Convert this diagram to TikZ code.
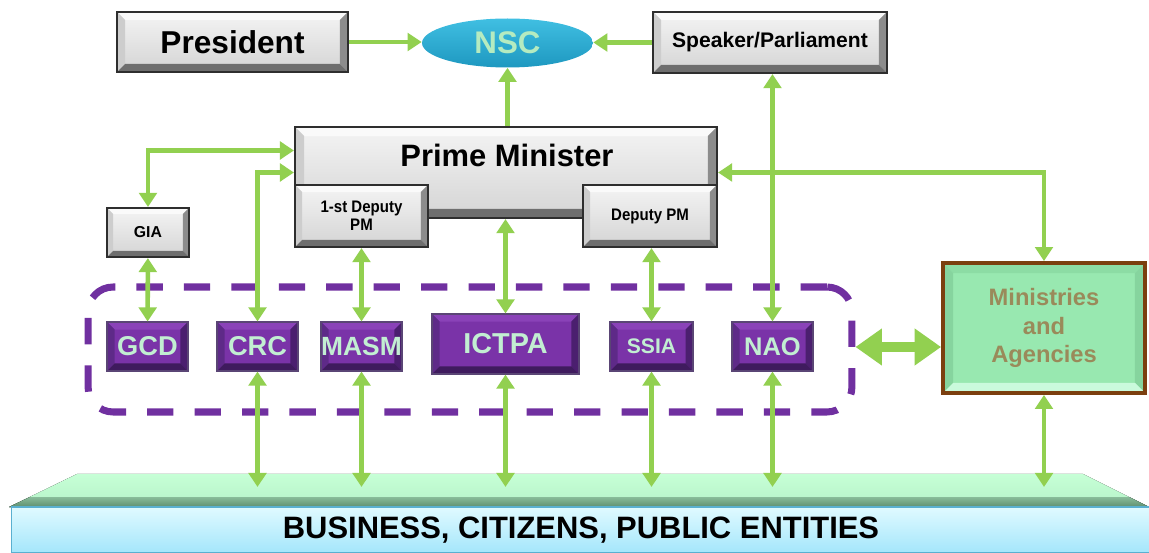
\documentclass[tikz,border=0pt]{standalone}
\usepackage{fontspec}
\setmainfont{Liberation Sans}
\newfontfamily\narrowfont[FakeStretch=0.9]{Liberation Sans}
\usetikzlibrary{arrows.meta,shapes.geometric}

\definecolor{lgreen}{HTML}{92D050}
\definecolor{greyline}{HTML}{2E2E2E}
\definecolor{greyhi}{HTML}{F4F4F4}
\definecolor{greylo}{HTML}{D4D4D4}
\definecolor{greytop}{HTML}{FAFAFA}
\definecolor{greyleft}{HTML}{CDCDCD}
\definecolor{greyright}{HTML}{8C8C8C}
\definecolor{greybot}{HTML}{6E6E6E}
\definecolor{purface}{HTML}{7A33A8}
\definecolor{purtop}{HTML}{8A42B8}
\definecolor{purleft}{HTML}{5E2A88}
\definecolor{purright}{HTML}{4B1F6F}
\definecolor{purbot}{HTML}{3F1B5E}
\definecolor{purline}{HTML}{5A4575}
\definecolor{purtext}{HTML}{C2EED2}
\definecolor{dashpurple}{HTML}{7030A0}
\definecolor{minface}{HTML}{98E8B0}
\definecolor{mintop}{HTML}{8CDCA4}
\definecolor{minside}{HTML}{86D49E}
\definecolor{minbot}{HTML}{CAFADC}
\definecolor{minline}{HTML}{7B3F0F}
\definecolor{mintext}{HTML}{9A8A5A}
\definecolor{nsctop}{HTML}{40BFE2}
\definecolor{nscbot}{HTML}{1E98C0}
\definecolor{nsctext}{HTML}{B5EBC0}
\definecolor{plattop}{HTML}{C6FFD6}
\definecolor{platlow}{HTML}{B6F2C8}
\definecolor{platdark}{HTML}{5F8F70}
\definecolor{bizhi}{HTML}{E0FAFF}
\definecolor{bizlo}{HTML}{A4E6FB}
\definecolor{bizline}{HTML}{5AB0D0}

\tikzset{
    bevel/.style n args={5}{path picture={
        \fill[#2] (path picture bounding box.north west) -- (path picture bounding box.north east)
            -- ([shift={(-#1,-#1)}]path picture bounding box.north east)
            -- ([shift={(#1,-#1)}]path picture bounding box.north west) -- cycle;
        \fill[#3] (path picture bounding box.north west) -- ([shift={(#1,-#1)}]path picture bounding box.north west)
            -- ([shift={(#1,#1)}]path picture bounding box.south west) -- (path picture bounding box.south west) -- cycle;
        \fill[#4] (path picture bounding box.north east) -- ([shift={(-#1,-#1)}]path picture bounding box.north east)
            -- ([shift={(-#1,#1)}]path picture bounding box.south east) -- (path picture bounding box.south east) -- cycle;
        \fill[#5] (path picture bounding box.south west) -- (path picture bounding box.south east)
            -- ([shift={(-#1,#1)}]path picture bounding box.south east)
            -- ([shift={(#1,#1)}]path picture bounding box.south west) -- cycle;
    }},
    greybox/.style={rectangle, draw=greyline, line width=1.2pt, top color=greyhi, bottom color=greylo,
        bevel={#1}{greytop}{greyleft}{greyright}{greybot}, text=black, align=center, inner sep=0pt},
    greybox/.default=0.16cm,
    purbox/.style={rectangle, draw=purline, line width=0.6pt, fill=purface,
        bevel={0.15cm}{purtop}{purleft}{purright}{purbot}, text=purtext, inner sep=0pt,
        minimum width=1.62cm, minimum height=0.98cm},
    gtip/.tip={Triangle[length=8pt,width=10pt]},
    bigtip/.tip={Triangle[length=15pt,width=20pt]},
    link/.style={draw=lgreen, line width=2.6pt, gtip-gtip},
    onelink/.style={draw=lgreen, line width=2.6pt, -gtip},
    dashbox/.style={draw=dashpurple, line width=4pt, dash pattern=on 15pt off 12pt, rounded corners=0.5cm}
}

\begin{document}
\begin{tikzpicture}[x=0.02cm,y=-0.02cm]
        \useasboundingbox (0,0) rectangle (1149,553);

        % platform at the bottom
        \fill[top color=plattop, bottom color=platlow] (77,474) -- (1083,474) -- (1149,507) -- (9,507) -- cycle;
        \fill[top color=platdark!60!plattop, bottom color=platdark] (30,497) -- (1129,497) -- (1149,507) -- (9,507) -- cycle;
        \node[rectangle, draw=bizline, line width=0.6pt, top color=bizhi, bottom color=bizlo,
              minimum width=22.8cm, minimum height=0.92cm, inner sep=0pt,
              font=\bfseries\fontsize{17.6}{20}\selectfont] (biz) at (581,530) {BUSINESS, CITIZENS, PUBLIC ENTITIES};
        \coordinate (plat) at (0,487);

        % top row
        \node[greybox, minimum width=4.62cm, minimum height=1.2cm,
              font=\bfseries\fontsize{18}{21}\selectfont] (pres) at (232.5,42) {President};
        \node[ellipse, top color=nsctop, bottom color=nscbot, inner sep=0pt,
              minimum width=3.42cm, minimum height=0.98cm, text=nsctext,
              font=\bfseries\fontsize{17.8}{20}\selectfont] (nsc) at (507.5,43) {NSC};
        \node[greybox, minimum width=4.68cm, minimum height=1.22cm,
              font=\bfseries\fontsize{12}{14}\selectfont] (spk) at (770,42.5) {Speaker/Parliament};

        % prime minister with deputies
        \node[greybox=0.18cm, minimum width=8.44cm, minimum height=1.82cm] (pm) at (506,172.5) {};
        \node[font=\bfseries\fontsize{17.6}{20}\selectfont] (pmtext) at (507,155) {Prime Minister};
        \node[greybox=0.14cm, minimum width=2.66cm, minimum height=1.24cm,
              font=\narrowfont\bfseries\fontsize{9.5}{10}\selectfont] (dpm1) at (361.5,216) {1-st Deputy\\PM};
        \node[greybox=0.14cm, minimum width=2.68cm, minimum height=1.24cm,
              font=\narrowfont\bfseries\fontsize{9.5}{10}\selectfont] (dpm2) at (650,216) {Deputy PM};
        \node[greybox=0.12cm, minimum width=1.64cm, minimum height=0.98cm,
              font=\bfseries\fontsize{9}{10}\selectfont] (gia) at (148,232.5) {GIA};

        % agencies
        \node[dashbox, minimum width=15.28cm, minimum height=2.5cm] (grp) at (470,349.5) {};
        \node[purbox, font=\bfseries\fontsize{15.5}{17}\selectfont] (gcd) at (147.5,346.5) {GCD};
        \node[purbox, font=\bfseries\fontsize{15.5}{17}\selectfont] (crc) at (257.5,346.5) {CRC};
        \node[purbox, font=\bfseries\fontsize{15}{17}\selectfont] (masm) at (361.5,346.5) {MASM};
        \node[purbox, minimum width=2.94cm, minimum height=1.2cm,
              font=\bfseries\fontsize{16.4}{18}\selectfont] (ictpa) at (505.5,344) {ICTPA};
        \node[purbox, minimum width=1.66cm, font=\bfseries\fontsize{12}{14}\selectfont] (ssia) at (651.5,346.5) {SSIA};
        \node[purbox, font=\bfseries\fontsize{14.5}{16}\selectfont] (nao) at (772.5,346.5) {NAO};

        \node[rectangle, draw=minline, line width=2.2pt, fill=minface,
              bevel={0.2cm}{mintop}{minside}{minside}{minbot},
              minimum width=4.04cm, minimum height=2.6cm, inner sep=0pt, align=center, text=mintext,
              font=\bfseries\fontsize{13.5}{16}\selectfont] (min) at (1044,328) {Ministries\\and\\Agencies};

        % links
        \draw[onelink] (pres.east) -- (pres.east -| nsc.west);
        \draw[onelink] (spk.west) -- (spk.west -| nsc.east);
        \draw[onelink] (nsc.south |- pm.north) -- (nsc.south);
        \draw[link] (nao.north |- spk.south) -- (nao.north);
        \draw[link] (gia.north) |- ([yshift=0.44cm]pm.west);
        \draw[link] (crc.north) |- (pm.west);
        \draw[link] (pm.east) -| (min.north);
        \draw[link] (gia) -- (gcd);
        \draw[link] (masm.north |- dpm1.south) -- (masm.north);
        \draw[link] (ictpa.north |- pm.south) -- (ictpa.north);
        \draw[link] (ssia.north |- dpm2.south) -- (ssia.north);
        \draw[draw=lgreen, line width=5.5pt, bigtip-bigtip] ([yshift=0.05cm]grp.east) -- ([yshift=0.05cm]grp.east -| min.west);
        \foreach \n in {crc,masm,ictpa,ssia,nao,min}
            \draw[link] (\n.south) -- (\n.south |- plat);

\end{tikzpicture}
\end{document}
